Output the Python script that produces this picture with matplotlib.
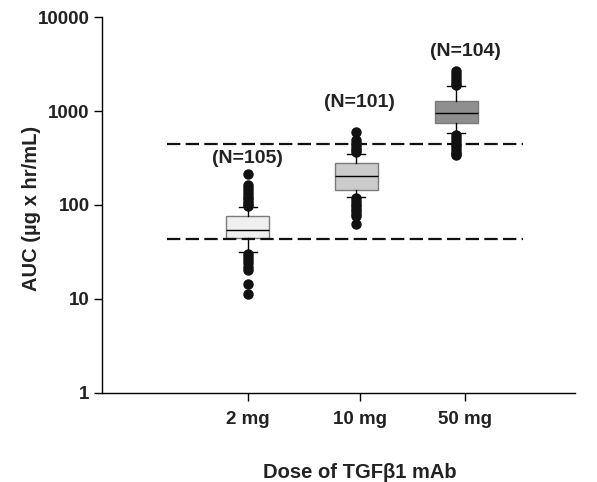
import numpy as np
import matplotlib
matplotlib.use("Agg")
import matplotlib.pyplot as plt

plt.rcParams['font.family'] = ['Liberation Sans', 'DejaVu Sans']
plt.rcParams['font.weight'] = 'bold'

# doses and box statistics
doses = ['2 mg', '10 mg', '50 mg']
n_labels = ['(N=105)', '(N=101)', '(N=104)']
q1 = [44.5, 144, 745]
med = [54, 204, 950]
q3 = [76, 280, 1280]
whislo = [31.6, 122, 584]
whishi = [95, 349, 1840]
fliers = [
    [214, 163, 150, 140, 130, 122, 115, 108, 102, 97,
     30, 28, 26, 24, 22, 20.5, 14.4, 11.3],
    [600, 490, 460, 430, 405, 385, 365,
     118, 110, 103, 97, 91, 86, 81, 76, 63],
    [2650, 2500, 2300, 2150, 2000, 1900,
     560, 520, 480, 450, 420, 395, 370, 350, 338],
]
n_label_y = [316, 1217, 4245]
box_colors = ['#efefef', '#cbcbcb', '#8f8f8f']

# reference band (dashed lines)
band = [43.5, 446]

tick_pos = [1, 2, 2.94]
box_pos = [1, 1.97, 2.86]
yticks = [1, 10, 100, 1000, 10000]
ytick_labels = ['1', '10', '100', '1000', '10000']

stats = []
for i in range(3):
    stats.append(dict(q1=q1[i], med=med[i], q3=q3[i],
                      whislo=whislo[i], whishi=whishi[i],
                      fliers=fliers[i]))

fig = plt.figure(figsize=(5.97, 4.82), dpi=100)
ax = fig.add_axes([0.1709, 0.1847, 0.963 - 0.1709, 0.9647 - 0.1847])

bp = ax.bxp(stats, positions=box_pos, widths=0.385, capwidths=0.16,
            patch_artist=True, showfliers=True,
            boxprops=dict(edgecolor='#7a7a7a', linewidth=1.0),
            medianprops=dict(color='black', linewidth=1.0),
            whiskerprops=dict(color='black', linewidth=1.0),
            capprops=dict(color='black', linewidth=1.0),
            flierprops=dict(marker='o', markerfacecolor='#111111',
                            markeredgecolor='#111111', markersize=6.5))
for patch, c in zip(bp['boxes'], box_colors):
    patch.set_facecolor(c)

ax.hlines(band, 0.277, 3.455, colors='#111111', linewidth=1.6,
          linestyles=[(0, (6.0, 2.4))], zorder=3)

for x, y, t in zip(tick_pos, n_label_y, n_labels):
    ax.text(x, y, t, ha='center', va='center', fontsize=14,
            fontweight='bold', color='#222222')

ax.set_yscale('log')
ax.set_ylim(1, 10000)
ax.set_xlim(-0.30, 3.92)
ax.set_yticks(yticks)
ax.set_yticklabels(ytick_labels)
ax.minorticks_off()
ax.set_xticks(tick_pos)
ax.set_xticklabels(doses)

for side in ['top', 'right']:
    ax.spines[side].set_visible(False)
for side in ['left', 'bottom']:
    ax.spines[side].set_linewidth(1.0)

ax.tick_params(axis='both', labelsize=13.5, width=1.0, length=6, pad=3,
               colors='black')
ax.tick_params(axis='x', pad=7)
for lab in ax.get_xticklabels() + ax.get_yticklabels():
    lab.set_fontweight('bold')
    lab.set_color('#222222')

ax.set_xlabel('Dose of TGFβ1 mAb', fontsize=14.5, fontweight='bold',
              color='#222222')
ax.set_ylabel('AUC (µg x hr/mL)', fontsize=14.5, fontweight='bold',
              color='#222222')
ax.xaxis.set_label_coords(0.545, -0.185)
ax.yaxis.set_label_coords(-0.13, 0.49)

fig.savefig('out.png', dpi=100)
